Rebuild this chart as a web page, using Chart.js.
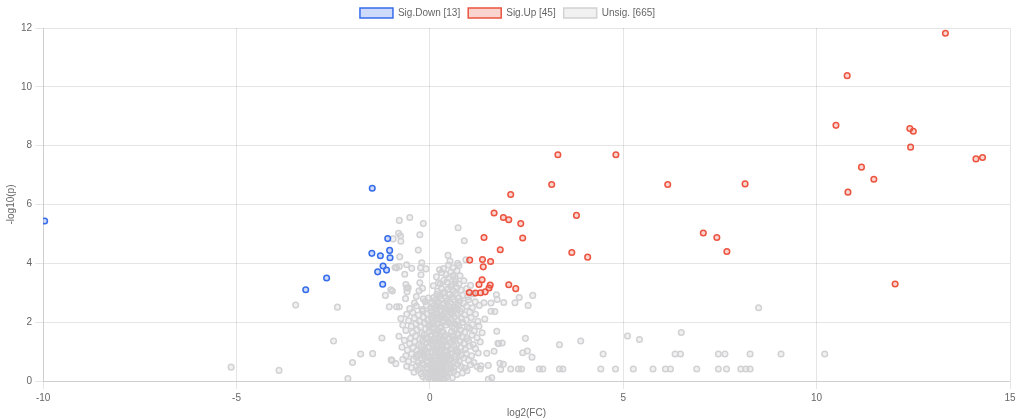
<!DOCTYPE html>
<html>
<head>
<meta charset="utf-8">
<script src="https://cdn.jsdelivr.net/npm/chart.js@4"></script>
<style>
  body { margin: 0; background: #fff; }
  #wrap { position: relative; width: 1024px; height: 420px; }
</style>
</head>
<body>
<div id="wrap"><canvas id="volcanoChart"></canvas></div>
<script>
// legend labels as printed in the picture
const LABELS = ["Sig.Down [13]", "Sig.Up [45]", "Unsig. [665]"];

const X_TICKS = [-10, -5, 0, 5, 10, 15];
const Y_TICKS = [0, 2, 4, 6, 8, 10, 12];

// [log2(FC), -log10(p)]
const sigDown = [
    [-9.96, 5.44], [-3.21, 3.1], [-2.67, 3.5], [-1.49, 6.55], [-1.09, 4.84],
    [-1.5, 4.34], [-1.28, 4.26], [-1.04, 4.44], [-1.03, 4.19], [-1.21, 3.91],
    [-1.12, 3.77], [-1.35, 3.71], [-1.22, 3.29]
];

const sigUp = [
    [13.33, 11.82], [10.79, 10.38], [10.5, 8.69], [12.41, 8.58], [12.5, 8.49],
    [12.43, 7.95], [14.12, 7.55], [14.29, 7.6], [11.16, 7.27], [11.48, 6.86],
    [10.81, 6.42], [8.15, 6.7], [12.03, 3.3], [3.31, 7.69], [4.81, 7.69],
    [3.15, 6.68], [6.15, 6.68], [2.09, 6.34], [1.66, 5.71], [1.9, 5.56],
    [2.04, 5.48], [2.35, 5.35], [3.79, 5.63], [1.4, 4.88], [2.4, 4.86],
    [7.07, 5.03], [7.42, 4.88], [7.68, 4.4], [1.82, 4.46], [3.67, 4.37],
    [4.08, 4.21], [1.36, 4.13], [1.57, 4.06], [1.38, 3.88], [1.03, 4.11],
    [1.35, 3.44], [1.27, 3.28], [1.56, 3.26], [1.53, 3.16], [1.43, 3.03],
    [1.02, 3.01], [1.18, 2.99], [2.04, 3.27], [2.22, 3.14], [1.31, 3.0]
];

const unsig = [
    // left tail
    [-5.14, 0.47], [-3.9, 0.36], [-3.47, 2.58], [-2.39, 2.51], [-2.49, 1.36],
    [-1.79, 0.92], [-2.0, 0.63], [-1.48, 0.93], [-2.12, 0.08], [-1.24, 1.46],
    [-1.15, 2.91], [-1.05, 2.52], [-1.0, 0.72], [-0.88, 0.59], [-1.01, 3.1],
    [-0.86, 2.52], [-0.79, 2.52], [-0.63, 2.8], [-0.6, 3.16], [-0.98, 0.7],
    // upper part of the cloud
    [-0.79, 5.46], [-0.52, 5.56], [-0.17, 5.35], [-0.81, 5.02], [-0.76, 4.94],
    [-0.95, 4.83], [-0.75, 4.75], [-0.26, 4.97], [-0.3, 4.45], [0.73, 5.21],
    [0.89, 4.77], [0.47, 4.27], [0.52, 4.08], [-0.78, 4.22], [-0.79, 3.89],
    [-0.86, 3.84], [-0.9, 3.86], [-0.6, 3.95], [-0.47, 3.83], [-0.21, 4.02],
    [-0.24, 3.85], [-0.1, 3.81], [-0.23, 3.61], [-0.65, 3.63], [-0.62, 3.28],
    [-0.56, 3.17], [-0.59, 3.03], [-0.26, 3.34], [-0.28, 3.07], [-0.19, 3.15],
    [-0.17, 2.79], [-0.04, 2.82], [-0.97, 3.06], [0.09, 3.24], [0.22, 3.34],
    [0.17, 3.54], [0.3, 3.68], [0.35, 3.82], [0.48, 3.94], [0.72, 4.0],
    [0.75, 3.93], [0.93, 4.12], [0.78, 3.58], [0.88, 3.41],
    // right of the cloud
    [1.72, 2.93], [2.31, 2.84], [2.66, 2.91], [1.91, 2.67], [2.2, 2.66],
    [2.54, 2.57], [1.58, 2.37], [1.4, 2.66], [1.58, 2.65], [1.73, 1.69],
    [2.47, 1.45], [3.35, 1.23], [3.9, 1.36], [1.78, 1.27], [1.87, 1.29],
    [1.47, 0.94], [1.66, 1.01], [2.4, 0.96], [2.52, 1.02], [2.64, 0.81],
    [1.81, 0.6], [1.9, 0.57], [1.22, 0.49], [1.32, 0.52], [1.3, 0.41],
    [1.51, 0.53], [1.83, 0.39], [2.09, 0.41], [2.29, 0.41], [2.37, 0.41],
    [2.83, 0.41], [2.92, 0.41], [3.35, 0.41], [3.44, 0.41], [1.51, 0.06],
    [1.6, 0.11], [1.74, 2.77], [1.76, 1.28], [1.68, 2.36],
    // far right
    [4.48, 0.92], [4.42, 0.41], [4.8, 0.41], [5.11, 1.53], [5.42, 1.41],
    [5.26, 0.41], [5.77, 0.41], [6.09, 0.41], [6.22, 0.41], [6.5, 1.65],
    [6.34, 0.92], [6.48, 0.92], [6.9, 0.41], [7.46, 0.92], [7.63, 0.92],
    [7.46, 0.41], [7.67, 0.41], [8.04, 0.41], [8.17, 0.41], [8.28, 0.41],
    [8.28, 0.92], [8.5, 2.49], [9.08, 0.92], [10.21, 0.92],
    // dense core
    [0.02, 0.05], [0.08, 0.02], [0.14, 0.08], [0.2, 0.03], [0.26, 0.1], [0.31, 0.04],
    [-0.04, 0.12], [0.11, 0.14], [0.37, 0.09], [-0.1, 0.06], [0.18, 0.12], [0.24, 0.01],
    [0.45, 0.13], [0.05, 0.18], [-0.18, 0.15], [0.58, 0.11], [0.33, 0.17],
    [-0.22, 0.25], [-0.12, 0.3], [-0.03, 0.22], [0.04, 0.34], [0.1, 0.27], [0.16, 0.38],
    [0.22, 0.24], [0.28, 0.31], [0.35, 0.26], [0.41, 0.36], [0.5, 0.28], [0.62, 0.33],
    [0.7, 0.22], [0.84, 0.27], [-0.3, 0.37], [0.07, 0.4], [0.19, 0.21], [-0.07, 0.39],
    [0.44, 0.2], [0.27, 0.4], [0.96, 0.35], [-0.41, 0.3],
    [-0.48, 0.45], [-0.35, 0.52], [-0.26, 0.44], [-0.16, 0.56], [-0.08, 0.48], [0.0, 0.55],
    [0.06, 0.46], [0.13, 0.58], [0.2, 0.43], [0.26, 0.53], [0.32, 0.47], [0.39, 0.58],
    [0.47, 0.44], [0.55, 0.52], [0.63, 0.46], [0.72, 0.56], [0.81, 0.49], [0.9, 0.44],
    [1.05, 0.55], [-0.6, 0.5], [0.1, 0.5], [0.29, 0.6], [-0.2, 0.6],
    [-0.55, 0.66], [-0.42, 0.74], [-0.3, 0.63], [-0.21, 0.71], [-0.13, 0.78], [-0.05, 0.65],
    [0.03, 0.73], [0.09, 0.62], [0.15, 0.79], [0.23, 0.68], [0.3, 0.75], [0.36, 0.64],
    [0.43, 0.77], [0.51, 0.69], [0.59, 0.62], [0.67, 0.74], [0.76, 0.67], [0.88, 0.78],
    [1.0, 0.7], [1.14, 0.63], [-0.7, 0.74], [0.12, 0.7], [0.4, 0.7],
    [-0.62, 0.86], [-0.47, 0.92], [-0.36, 0.83], [-0.25, 0.96], [-0.17, 0.88], [-0.09, 0.99],
    [-0.01, 0.84], [0.05, 0.94], [0.12, 0.87], [0.19, 0.97], [0.26, 0.82], [0.33, 0.9],
    [0.4, 0.98], [0.48, 0.85], [0.56, 0.94], [0.64, 0.83], [0.73, 0.97], [0.82, 0.88],
    [0.94, 0.93], [1.08, 0.86], [1.25, 0.95], [0.22, 0.9], [-0.3, 0.9],
    [-0.58, 1.05], [-0.44, 1.14], [-0.33, 1.03], [-0.22, 1.18], [-0.13, 1.08], [-0.04, 1.16],
    [0.04, 1.02], [0.11, 1.12], [0.18, 1.19], [0.25, 1.06], [0.32, 1.15], [0.39, 1.04],
    [0.46, 1.17], [0.54, 1.09], [0.62, 1.2], [0.71, 1.03], [0.8, 1.13], [0.91, 1.07],
    [1.03, 1.18], [1.18, 1.1], [-0.72, 1.15], [0.15, 1.0],
    [-0.52, 1.27], [-0.39, 1.34], [-0.28, 1.23], [-0.18, 1.38], [-0.08, 1.29], [0.0, 1.36],
    [0.08, 1.24], [0.16, 1.33], [0.23, 1.4], [0.3, 1.26], [0.37, 1.36], [0.45, 1.22],
    [0.53, 1.31], [0.6, 1.39], [0.69, 1.25], [0.78, 1.35], [0.88, 1.28], [1.0, 1.37],
    [1.12, 1.24], [1.3, 1.33], [-0.66, 1.38],
    [-0.5, 1.45], [-0.37, 1.53], [-0.26, 1.42], [-0.15, 1.57], [-0.06, 1.47], [0.03, 1.55],
    [0.1, 1.43], [0.17, 1.58], [0.25, 1.49], [0.33, 1.41], [0.41, 1.56], [0.49, 1.46],
    [0.57, 1.54], [0.65, 1.43], [0.74, 1.58], [0.84, 1.5], [0.95, 1.44], [1.09, 1.56],
    [1.22, 1.47], [-0.8, 1.52],
    [-0.45, 1.65], [-0.33, 1.74], [-0.21, 1.63], [-0.11, 1.77], [-0.02, 1.68], [0.06, 1.79],
    [0.13, 1.62], [0.2, 1.71], [0.28, 1.8], [0.35, 1.66], [0.56, 1.68], [0.63, 1.78],
    [0.71, 1.62], [0.8, 1.73], [0.9, 1.66], [1.02, 1.79], [1.15, 1.7], [1.35, 1.64],
    [-0.62, 1.72],
    [-0.48, 1.86], [-0.36, 1.95], [-0.24, 1.83], [-0.13, 1.98], [-0.03, 1.88], [0.05, 1.96],
    [0.12, 1.82], [0.19, 1.93], [0.27, 1.85], [0.34, 1.99], [0.42, 1.9], [0.5, 1.97],
    [0.58, 1.84], [0.66, 1.94], [0.75, 1.87], [0.85, 1.99], [0.97, 1.83], [1.1, 1.92],
    [1.27, 1.86], [-0.7, 1.9],
    [-0.55, 2.05], [-0.4, 2.13], [-0.27, 2.03], [-0.16, 2.17], [-0.06, 2.08], [0.04, 2.15],
    [0.11, 2.02], [0.18, 2.12], [0.26, 2.19], [0.33, 2.06], [0.4, 2.14], [0.48, 2.01],
    [0.55, 2.1], [0.63, 2.18], [0.72, 2.04], [0.82, 2.13], [0.94, 2.07], [1.07, 2.16],
    [1.24, 2.03], [1.42, 2.11], [-0.75, 2.12],
    [-0.6, 2.27], [-0.44, 2.33], [-0.3, 2.24], [-0.18, 2.38], [-0.07, 2.29], [0.03, 2.36],
    [0.1, 2.22], [0.17, 2.31], [0.25, 2.39], [0.32, 2.26], [0.39, 2.35], [0.47, 2.23],
    [0.54, 2.32], [0.62, 2.4], [0.7, 2.28], [0.79, 2.36], [0.9, 2.25], [1.03, 2.34],
    [1.18, 2.27],
    [-0.52, 2.46], [-0.35, 2.55], [-0.2, 2.43], [-0.09, 2.57], [0.02, 2.48], [0.1, 2.56],
    [0.18, 2.44], [0.25, 2.53], [0.32, 2.6], [0.4, 2.47], [0.48, 2.55], [0.56, 2.42],
    [0.64, 2.51], [0.73, 2.58], [0.83, 2.45], [0.95, 2.54], [1.1, 2.49], [1.28, 2.57],
    [-0.4, 2.65], [-0.12, 2.7], [0.06, 2.63], [0.14, 2.75], [0.21, 2.67], [0.29, 2.78],
    [0.36, 2.64], [0.44, 2.73], [0.52, 2.66], [0.6, 2.77], [0.68, 2.62], [0.77, 2.71],
    [0.87, 2.65], [1.0, 2.76], [1.17, 2.69],
    [-0.35, 2.87], [0.1, 2.84], [0.18, 2.95], [0.26, 2.88], [0.34, 2.98], [0.42, 2.83],
    [0.5, 2.93], [0.58, 2.86], [0.66, 2.97], [0.75, 2.82], [0.85, 2.91], [0.98, 2.86],
    [1.12, 2.96],
    [0.2, 3.05], [0.3, 3.15], [0.38, 3.02], [0.46, 3.12], [0.54, 3.2], [0.62, 3.06],
    [0.7, 3.17], [0.8, 3.09], [0.95, 3.14], [0.27, 3.3], [0.44, 3.36], [0.58, 3.28],
    [0.66, 3.38], [0.75, 3.3], [1.05, 3.25], [0.36, 3.42],
    [0.48, 3.5], [0.6, 3.58], [0.54, 3.7], [0.66, 3.48], [0.42, 3.62], [0.7, 3.75],
    [0.6, 3.85], [0.25, 3.78],
    [0.0, 0.3], [0.12, 0.45], [0.22, 0.55], [0.3, 0.85], [0.05, 0.65], [0.18, 1.05],
    [0.28, 1.2], [0.08, 1.35], [0.38, 1.5], [0.15, 1.62], [0.02, 1.9], [0.24, 2.1],
    [0.42, 2.45], [0.33, 2.2], [-0.1, 1.45], [-0.15, 1.0], [0.45, 1.0], [0.5, 0.75],
    [0.36, 0.35], [0.14, 0.2], [-0.06, 0.8], [0.22, 1.45], [0.31, 1.7], [0.08, 2.25],
    [0.17, 2.55], [0.58, 2.3], [0.7, 1.9], [0.62, 1.5], [0.66, 1.0], [0.55, 0.4]
];

function toPoints(list) {
    return list.map(p => ({ x: p[0], y: p[1] }));
}

Chart.defaults.font.family = "'Liberation Sans', Arial, sans-serif";
Chart.defaults.font.size = 10;
Chart.defaults.color = "#666";

const config = {
    type: "scatter",
    data: {
        datasets: [
            {
                label: LABELS[0],
                data: toPoints(sigDown),
                borderColor: "rgb(54, 108, 235)",
                backgroundColor: "rgba(54, 108, 235, 0.25)",
                borderWidth: 1.5,
                pointRadius: 2.8,
            },
            {
                label: LABELS[1],
                data: toPoints(sigUp),
                borderColor: "rgb(236, 84, 64)",
                backgroundColor: "rgba(236, 84, 64, 0.25)",
                borderWidth: 1.5,
                pointRadius: 2.8,
            },
            {
                label: LABELS[2],
                data: toPoints(unsig),
                borderColor: "rgb(210, 210, 212)",
                backgroundColor: "rgba(210, 210, 212, 0.3)",
                borderWidth: 1.5,
                pointRadius: 2.8,
            },
        ],
    },
    options: {
        responsive: true,
        maintainAspectRatio: false,
        animation: false,
        layout: {
            padding: { left: 5, right: 14, top: 0, bottom: 0 },
        },
        plugins: {
            legend: {
                position: "top",
                labels: {
                    boxWidth: 33,
                    boxHeight: 10,
                    padding: 8,
                },
            },
            tooltip: { enabled: false },
        },
        scales: {
            x: {
                type: "linear",
                min: X_TICKS[0],
                max: X_TICKS[X_TICKS.length - 1],
                afterBuildTicks: axis => { axis.ticks = X_TICKS.map(v => ({ value: v })); },
                title: { display: true, text: "log2(FC)", padding: { top: 0, bottom: 1 } },
                grid: { color: "rgba(0,0,0,0.1)" },
            },
            y: {
                type: "linear",
                min: Y_TICKS[0],
                max: Y_TICKS[Y_TICKS.length - 1],
                afterBuildTicks: axis => { axis.ticks = Y_TICKS.map(v => ({ value: v })); },
                title: { display: true, text: "-log10(p)", padding: { top: 0, bottom: 1 } },
                grid: { color: "rgba(0,0,0,0.1)" },
            },
        },
    },
};

const volcanoChart = new Chart(document.getElementById("volcanoChart"), config);
</script>
</body>
</html>
